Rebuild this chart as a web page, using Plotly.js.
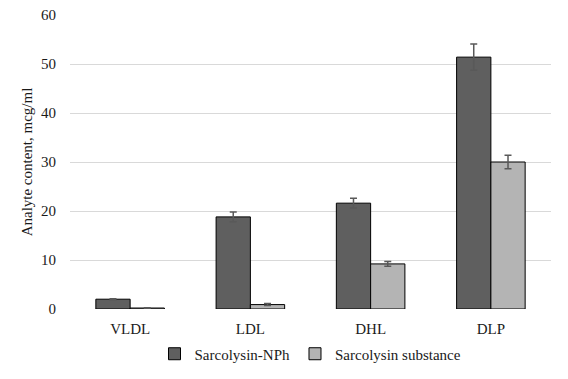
<!DOCTYPE html>
<html>
<head>
<meta charset="utf-8">
<script src="https://cdn.plot.ly/plotly-3.0.1.min.js"></script>
<style>html,body{margin:0;padding:0;background:#fff;}#chart{width:568px;height:379px;}</style>
</head>
<body>
<div id="chart"></div>
<script>
var categories = ["VLDL", "LDL", "DHL", "DLP"];
var seriesNames = ["Sarcolysin-NPh", "Sarcolysin substance"];
var npfValues = [2.0, 18.8, 21.6, 51.4];
var npfErrors = [0.1, 1.0, 1.0, 2.7];
var substanceValues = [0.2, 0.9, 9.2, 30.0];
var substanceErrors = [0.05, 0.2, 0.5, 1.4];
var yTicks = [0, 10, 20, 30, 40, 50, 60];

var font = {family: "'Liberation Serif', 'Times New Roman', serif", size: 15, color: "#1a1a1a"};

function barTrace(name, values, errors, color) {
  return {
    type: "bar",
    name: name,
    x: categories,
    y: values,
    marker: {color: color, line: {color: "#000000", width: 1}},
    error_y: {type: "data", array: errors, visible: true, color: "#595959", thickness: 1.5, width: 3.5}
  };
}

var data = [
  barTrace(seriesNames[0], npfValues, npfErrors, "#5f5f5f"),
  barTrace(seriesNames[1], substanceValues, substanceErrors, "#b4b4b4")
];

var layout = {
  width: 568, height: 379,
  margin: {l: 70, r: 17, t: 15, b: 70},
  paper_bgcolor: "#ffffff",
  plot_bgcolor: "#ffffff",
  font: font,
  barmode: "group",
  bargap: 0.43,
  bargroupgap: 0,
  showlegend: true,
  legend: {
    orientation: "h", x: 0.5, xanchor: "center",
    yref: "container", y: 0.066, yanchor: "middle",
    font: font, itemwidth: 30, traceorder: "normal", tracegroupgap: 0
  },
  xaxis: {
    type: "category",
    showgrid: false, zeroline: false, showline: false,
    ticks: "outside", ticklen: 6, tickcolor: "rgba(0,0,0,0)",
    tickfont: font
  },
  yaxis: {
    range: [0, 60],
    tickvals: yTicks,
    ticktext: yTicks.map(String),
    showgrid: true, gridcolor: "#d9d9d9", gridwidth: 1,
    zeroline: false, showline: false,
    ticks: "outside", ticklen: 10, tickcolor: "rgba(0,0,0,0)",
    tickfont: font,
    title: {text: "Analyte content, mcg/ml", font: font, standoff: 4}
  }
};

Plotly.newPlot("chart", data, layout, {displayModeBar: false, staticPlot: true});
</script>
</body>
</html>
